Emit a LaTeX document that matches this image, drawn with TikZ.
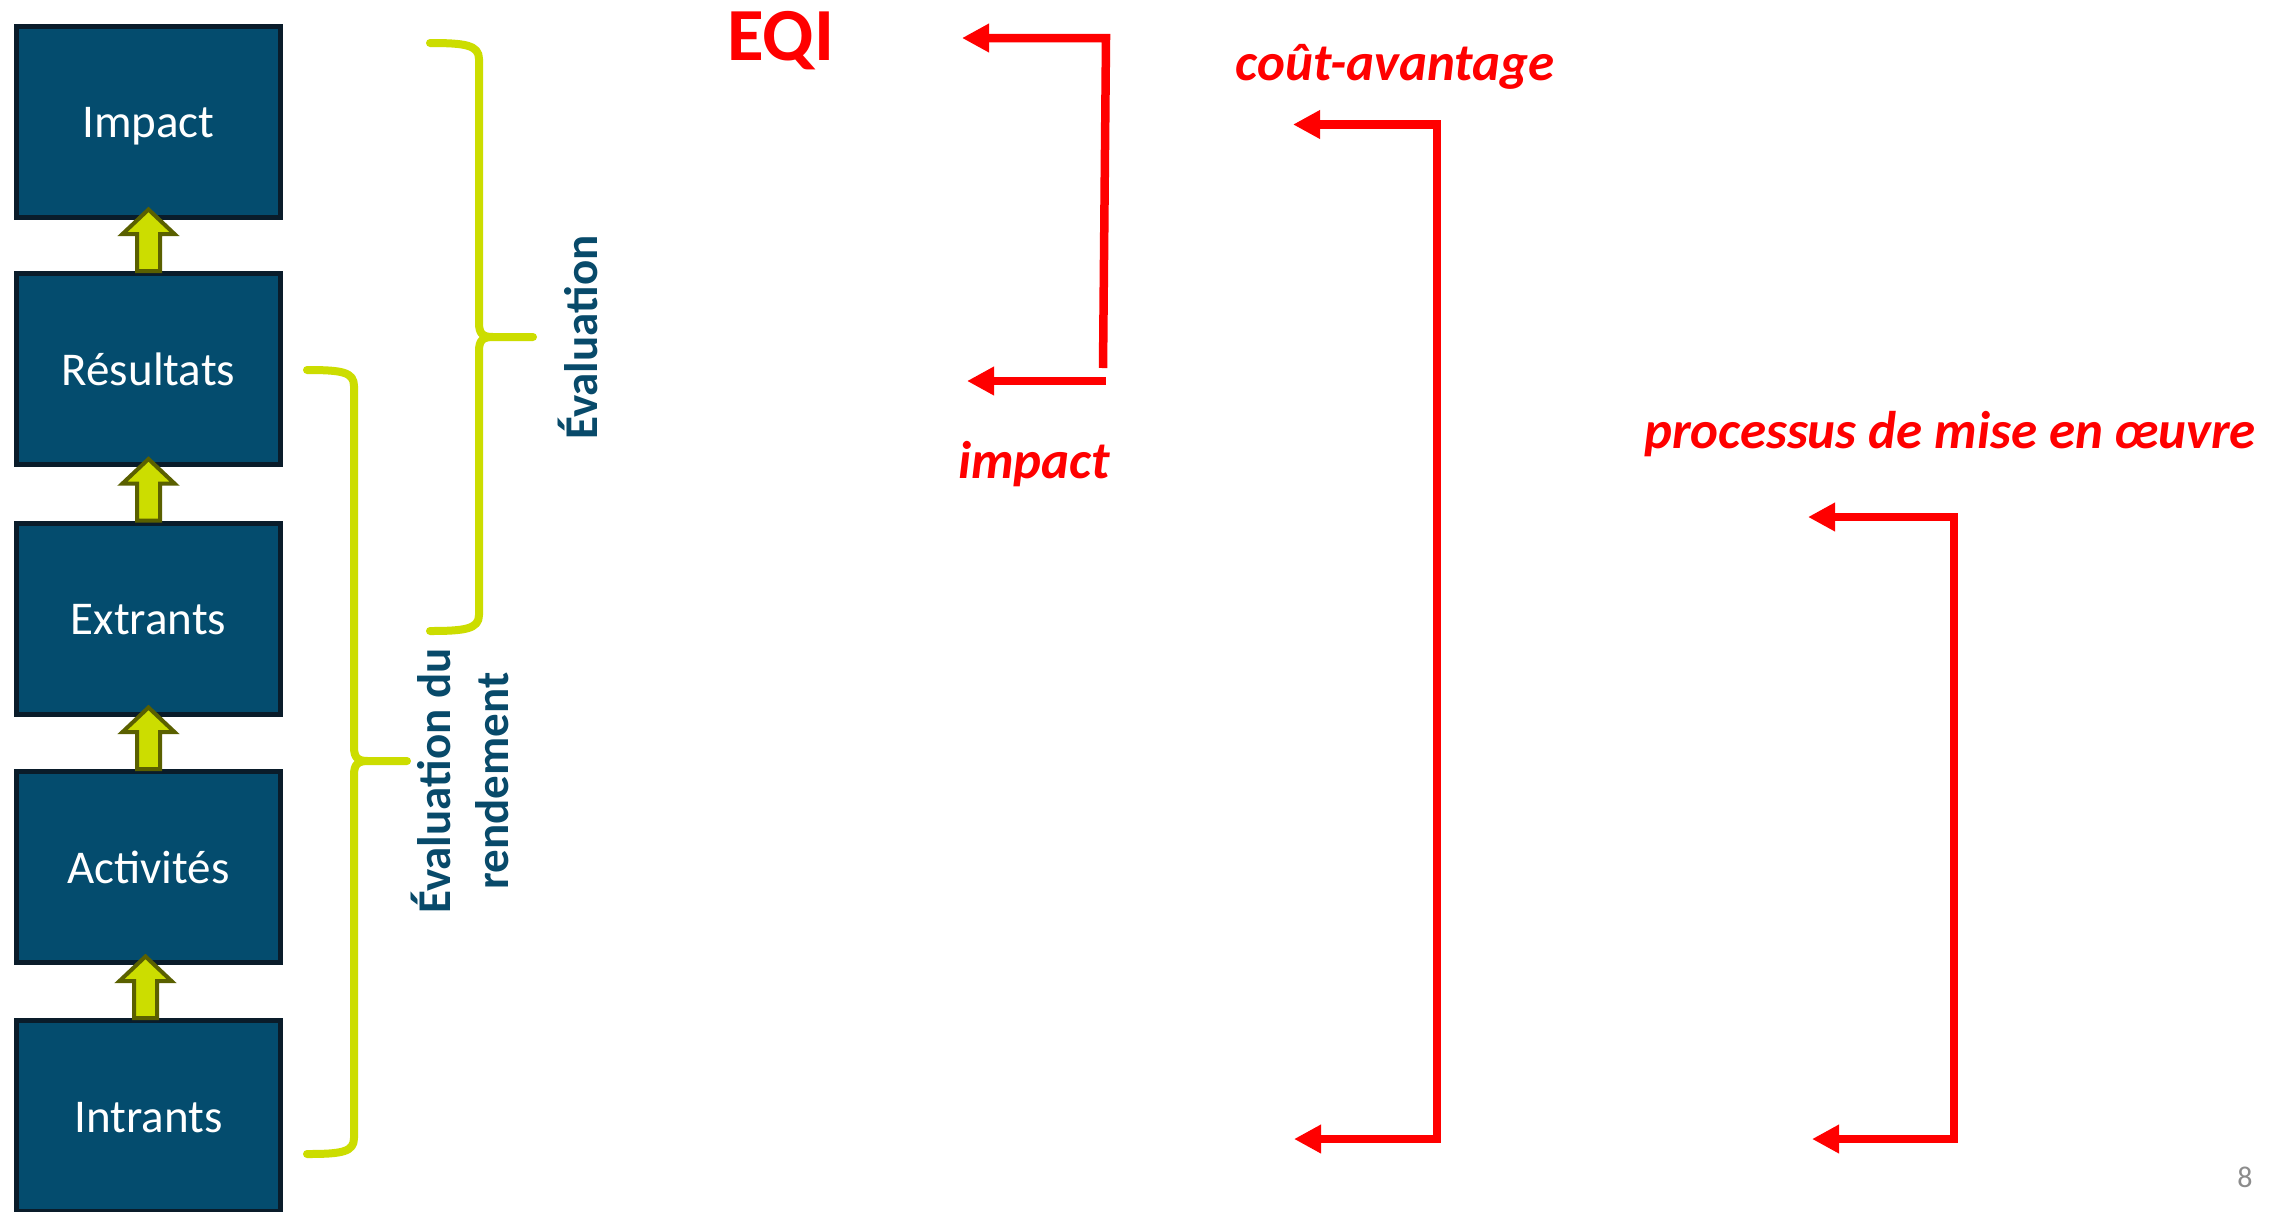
\documentclass[tikz,border=0pt]{standalone}
\usepackage{fontspec}
\setmainfont{Carlito}
\usetikzlibrary{arrows.meta}
\definecolor{boxfill}{RGB}{4,76,110}
\definecolor{boxline}{RGB}{10,28,42}
\definecolor{myLime}{RGB}{204,221,0}
\definecolor{myOlive}{RGB}{90,96,0}
\definecolor{myTeal}{RGB}{8,74,106}
\definecolor{pgnum}{RGB}{140,140,140}
\begin{document}
\begin{tikzpicture}[x=1pt,y=-1pt,
  stagebox/.style={draw=boxline, fill=boxfill, line width=5pt, minimum width=264pt, minimum height=191pt, inner sep=0pt, text=white, text height=32pt, text depth=0pt, font=\fontsize{47}{56}\selectfont},
  blockarr/.style={fill=myLime, draw=myOlive, line width=4pt, line join=miter},
  bracestyle/.style={draw=myLime, line width=8pt, line cap=round, line join=round},
  redline/.style={draw=red, line width=8.5pt, line join=miter, >={Triangle[length=27pt,width=27pt]}},
  redtxt/.style={text=red, font=\fontsize{53}{60}\selectfont\bfseries\itshape, inner sep=0pt},
  evaltxt/.style={text=myTeal, font=\fontsize{47}{58}\selectfont\bfseries, inner sep=0pt, rotate=90}
]
\useasboundingbox[fill=white] (0,0) rectangle (2290,1211);

% stage boxes
\node[stagebox] (imp)  at (148.5,121.5) {Impact};
\node[stagebox] (res)  at (148.5,369)   {Résultats};
\node[stagebox] (ext)  at (148.5,618.5) {Extrants};
\node[stagebox] (act)  at (148.5,867)   {Activités};
\node[stagebox] (intr) at (148.5,1116)  {Intrants};

% block arrows between boxes
\foreach \lo/\dx in {res/0, ext/0, act/0, intr/-3} {
  \draw[blockarr] ([shift={(\dx-11.5,0)}]\lo.north) -- ++(0,-37) -- ++(-14.5,0) -- ++(26,-24.5)
     -- ++(26,24.5) -- ++(-14.5,0) -- ++(0,37) -- cycle;
}

% braces
\draw[bracestyle] (430,43) .. controls (465,43) and (479,45) .. (479,59) -- (479,323)
  .. controls (479,334) and (483,337) .. (493,337) -- (533,337) -- (493,337)
  .. controls (483,337) and (479,340) .. (479,351) -- (479,615)
  .. controls (479,629) and (465,631) .. (430,631);
\draw[bracestyle] (307,370) .. controls (342,370) and (354,372) .. (354,386) -- (354,747)
  .. controls (354,758) and (358,761) .. (368,761) -- (407,761) -- (368,761)
  .. controls (358,761) and (354,764) .. (354,775) -- (354,1138)
  .. controls (354,1152) and (342,1154) .. (307,1154);

% rotated labels
\node[evaltxt, anchor=base] (ev1) at (597,337.5) {Évaluation};
\node[evaltxt, align=center] (ev2) at (460,781) {Évaluation du\\rendement};

% red connectors
\coordinate (a1tip) at (962,38);
\coordinate (a1c) at (1106,38);
\coordinate (a1foot) at (1103,368);
\coordinate (a1btip) at (967,381);
\coordinate (a1bend) at (1106,381);
\draw[redline,<-] (a1tip) -- (a1c) -- (a1foot);
\draw[redline,<-] (a1btip) -- (a1bend);

\coordinate (a2t) at (1293,124.5);
\coordinate (a2c1) at (1437,124.5);
\coordinate (a2c2) at (1437,1139);
\coordinate (a2b) at (1294,1139);
\draw[redline,<->] (a2t) -- (a2c1) -- (a2c2) -- (a2b);

\coordinate (a3t) at (1808,517);
\coordinate (a3c1) at (1954,517);
\coordinate (a3c2) at (1954,1139);
\coordinate (a3b) at (1812,1139);
\draw[redline,<->] (a3t) -- (a3c1) -- (a3c2) -- (a3b);

% red labels
\node[text=red, font=\fontsize{75}{80}\selectfont\bfseries, inner sep=0pt, anchor=base] (eqi) at (781,60) {EQI};
\node[redtxt, anchor=base] (impl) at (1034,478) {impact};
\node[redtxt, anchor=base] (cout) at (1395,80) {coût-avantage};
\node[redtxt, anchor=base] (proc) at (1950,448) {processus de mise en œuvre};

% page number
\node[text=pgnum, font=\fontsize{30}{36}\selectfont, inner sep=0pt, anchor=base] (pg) at (2245,1187) {8};
\end{tikzpicture}
\end{document}
